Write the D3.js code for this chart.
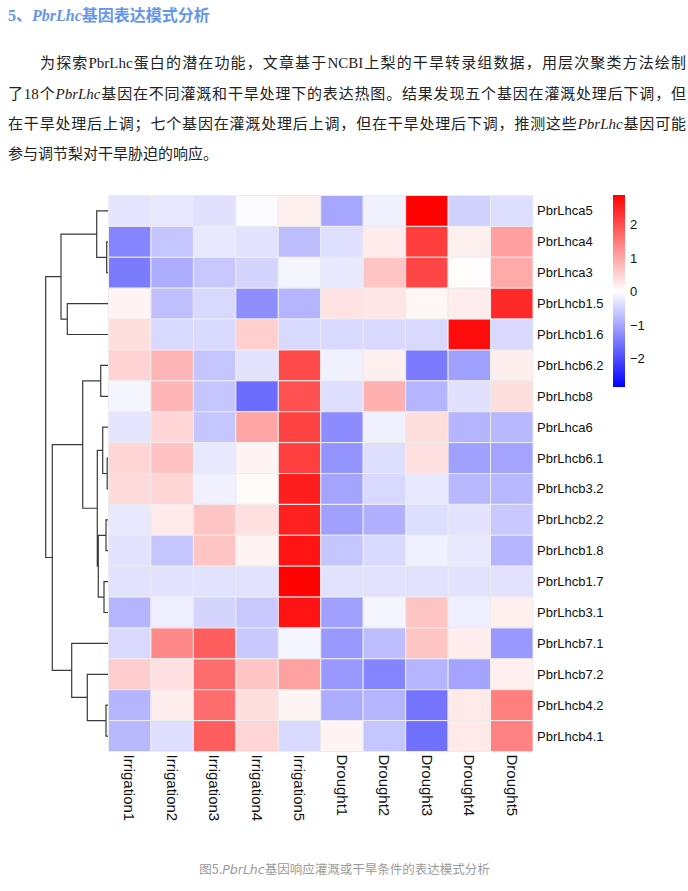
<!DOCTYPE html>
<html>
<head>
<meta charset="utf-8">
<script src="https://cdn.jsdelivr.net/npm/d3@7"></script>
<style>
  body { margin: 0; background: #fff; }
  #page { position: relative; width: 688px; height: 891px; overflow: hidden; }
  #page svg { position: absolute; left: 0; top: 0; }
  .title { position: absolute; left: 8px; top: 3px; font: bold 16px "Liberation Serif", "Noto Sans CJK SC", serif; color: #6495ed; line-height: 22px; white-space: nowrap; }
  .title .cn { font-family: "Noto Sans CJK SC", sans-serif; }
  .line { position: absolute; font: 15px "Liberation Serif", "Noto Sans CJK SC", serif; color: #222; line-height: 30px; }
  .just { text-align: justify; text-align-last: justify; }
</style>
</head>
<body>
<div id="page">
  <div class="title">5、<i>PbrLhc</i><span class="cn">基因表达模式分析</span></div>
  <div class="line just" style="left:40px; top:48px; width:646px">为探索PbrLhc蛋白的潜在功能，文章基于NCBI上梨的干旱转录组数据，用层次聚类方法绘制</div>
  <div class="line just" style="left:8px; top:79px; width:678px">了18个<i>PbrLhc</i>基因在不同灌溉和干旱处理下的表达热图。结果发现五个基因在灌溉处理后下调，但</div>
  <div class="line just" style="left:8px; top:109px; width:678px">在干旱处理后上调；七个基因在灌溉处理后上调，但在干旱处理后下调，推测这些<i>PbrLhc</i>基因可能</div>
  <div class="line" style="left:8px; top:139px">参与调节梨对干旱胁迫的响应。</div>
</div>
<script>
  // row-scaled expression (z-score), rows in the clustered order
  const genes = ['PbrLhca5', 'PbrLhca4', 'PbrLhca3', 'PbrLhcb1.5', 'PbrLhcb1.6', 'PbrLhcb6.2',
    'PbrLhcb8', 'PbrLhca6', 'PbrLhcb6.1', 'PbrLhcb3.2', 'PbrLhcb2.2', 'PbrLhcb1.8',
    'PbrLhcb1.7', 'PbrLhcb3.1', 'PbrLhcb7.1', 'PbrLhcb7.2', 'PbrLhcb4.2', 'PbrLhcb4.1']

  const conditions = ['Irrigation1', 'Irrigation2', 'Irrigation3', 'Irrigation4', 'Irrigation5',
    'Drought1', 'Drought2', 'Drought3', 'Drought4', 'Drought5']

  const zScores = [
    [-0.30, -0.27, -0.34, -0.05, 0.17, -1.00, -0.17, 2.85, -0.50, -0.37],
    [-1.36, -0.65, -0.26, -0.31, -0.73, -0.36, 0.23, 2.19, 0.17, 1.08],
    [-1.48, -0.92, -0.62, -0.48, -0.11, -0.26, 0.66, 2.09, 0.03, 0.97],
    [0.12, -0.70, -0.43, -1.26, -0.84, 0.32, 0.28, 0.10, 0.20, 2.42],
    [0.37, -0.43, -0.43, 0.55, -0.43, -0.43, -0.43, -0.43, 2.74, -0.43],
    [0.50, 0.84, -0.65, -0.31, 2.04, -0.17, 0.17, -1.48, -1.06, 0.19],
    [-0.11, 0.84, -0.65, -1.64, 1.97, -0.37, 0.88, -0.84, -0.34, 0.37],
    [-0.29, 0.48, -0.65, 1.02, 2.13, -1.28, -0.17, 0.37, -0.84, -0.79],
    [0.48, 0.70, -0.26, 0.12, 2.18, -1.20, -0.37, 0.35, -1.06, -1.02],
    [0.41, 0.46, -0.17, 0.04, 2.54, -1.02, -0.43, -0.26, -0.79, -0.79],
    [-0.26, 0.25, 0.66, 0.35, 2.52, -1.06, -0.88, -0.37, -0.31, -0.60],
    [-0.31, -0.65, 0.66, 0.12, 2.67, -0.65, -0.43, -0.17, -0.26, -0.84],
    [-0.32, -0.32, -0.32, -0.32, 2.85, -0.32, -0.32, -0.32, -0.32, -0.32],
    [-0.84, -0.19, -0.48, -0.60, 2.67, -1.06, -0.11, 0.66, -0.19, 0.17],
    [-0.43, 1.33, 1.82, -0.60, -0.11, -1.15, -0.74, 0.66, 0.20, -1.15],
    [0.57, 0.35, 1.64, 0.66, 1.06, -1.15, -1.37, -0.84, -1.02, 0.17],
    [-0.84, 0.20, 1.64, 0.37, 0.12, -0.92, -0.84, -1.55, 0.25, 1.46],
    [-0.79, -0.37, 1.82, 0.48, -0.43, 0.12, -0.65, -1.60, 0.25, 1.42]
  ]

  // hclust-style merge table: negative = leaf (row number), positive = earlier merge
  const mergeA = [-9, -2, -11, -17, -13, -8, -6, 3, 6, -1, -16, 7, -15, -4, 10, 12, 15]
  const mergeB = [-10, -3, -12, -18, -14, 1, -7, 5, 8, 2, 4, 9, 11, -5, 14, 13, 16]
  const mergeHeight = [0.8, 1.3, 2.0, 2.0, 4.0, 5.3, 7.3, 9.7, 10.7, 11.3, 20.7, 25.3, 36.3, 40.7, 47.0, 55.7, 62.3]

  const legendTicks = [2, 1, 0, -1, -2]
  const colorMin = -2.85
  const colorMax = 2.88

  let width = 688
  let height = 891
  let heat = { left: 108.5, right: 533, top: 195.5, bottom: 751.5 }
  let dendroLeft = 45.7
  let legendBox = { x: 613, width: 12, top: 195, bottom: 387 }

  let svg = d3.select('#page').append('svg')
    .attr('width', width)
    .attr('height', height)

  let xScale = d3.scaleBand().domain(conditions).range([heat.left, heat.right])
  let yScale = d3.scaleBand().domain(genes).range([heat.top, heat.bottom])
  let color = d3.scaleLinear()
    .domain([colorMin, 0, colorMax])
    .range(['#0000ff', '#ffffff', '#ff0000'])

  // CELLS
  let cells = []
  zScores.forEach(function (row, i) {
    row.forEach(function (v, j) {
      cells.push({ gene: genes[i], cond: conditions[j], value: v })
    })
  })

  svg.append('g')
    .attr('class', 'cells')
    .selectAll('rect')
    .data(cells)
    .enter()
    .append('rect')
    .attr('x', function (d) { return xScale(d.cond) })
    .attr('y', function (d) { return yScale(d.gene) })
    .attr('width', xScale.bandwidth())
    .attr('height', yScale.bandwidth())
    .attr('fill', function (d) { return color(d.value) })
    .attr('stroke', '#ececec')
    .attr('stroke-width', 1)

  // ROW LABELS
  svg.append('g')
    .selectAll('text')
    .data(genes)
    .enter()
    .append('text')
    .attr('x', heat.right + 4)
    .attr('y', function (d) { return yScale(d) + yScale.bandwidth() / 2 })
    .attr('dy', '0.35em')
    .attr('style', 'font: 13px "Liberation Sans", Arial, sans-serif; fill: #111;')
    .text(function (d) { return d })

  // COLUMN LABELS
  svg.append('g')
    .selectAll('text')
    .data(conditions)
    .enter()
    .append('text')
    .attr('transform', function (d) {
      return 'translate(' + (xScale(d) + xScale.bandwidth() / 2) + ',' + (heat.bottom + 3) + ') rotate(90)'
    })
    .attr('dy', '0.35em')
    .attr('style', 'font: 15px "Liberation Sans", Arial, sans-serif; fill: #111;')
    .text(function (d) { return d })

  // DENDROGRAM
  let hScale = d3.scaleLinear()
    .domain([0, d3.max(mergeHeight)])
    .range([heat.left - 0.5, dendroLeft])

  let nodes = []
  function nodeOf (k) {
    if (k < 0) {
      let g = genes[-k - 1]
      return { x: hScale(0), y: yScale(g) + yScale.bandwidth() / 2 }
    }
    return nodes[k - 1]
  }
  let dendro = d3.path()
  mergeA.forEach(function (a, i) {
    let na = nodeOf(a)
    let nb = nodeOf(mergeB[i])
    let x = hScale(mergeHeight[i])
    dendro.moveTo(na.x, na.y)
    dendro.lineTo(x, na.y)
    dendro.lineTo(x, nb.y)
    dendro.lineTo(nb.x, nb.y)
    nodes.push({ x: x, y: (na.y + nb.y) / 2 })
  })
  svg.append('path')
    .attr('d', dendro.toString())
    .attr('fill', 'none')
    .attr('stroke', '#3a3a3a')
    .attr('stroke-width', 1.2)

  // COLOR LEGEND
  let legendScale = d3.scaleLinear()
    .domain([colorMin, colorMax])
    .range([legendBox.bottom, legendBox.top])

  let grad = svg.append('defs').append('linearGradient')
    .attr('id', 'legendGrad')
    .attr('x1', 0).attr('x2', 0).attr('y1', 1).attr('y2', 0)
  grad.selectAll('stop')
    .data([colorMin, 0, colorMax])
    .enter()
    .append('stop')
    .attr('offset', function (d) { return (d - colorMin) / (colorMax - colorMin) })
    .attr('stop-color', function (d) { return color(d) })

  svg.append('rect')
    .attr('x', legendBox.x)
    .attr('y', legendBox.top)
    .attr('width', legendBox.width)
    .attr('height', legendBox.bottom - legendBox.top)
    .attr('fill', 'url(#legendGrad)')

  svg.append('g')
    .selectAll('text')
    .data(legendTicks)
    .enter()
    .append('text')
    .attr('x', legendBox.x + legendBox.width + 5)
    .attr('y', function (d) { return legendScale(d) })
    .attr('dy', '0.35em')
    .attr('style', 'font: 13px "Liberation Sans", Arial, sans-serif; fill: #111;')
    .text(function (d) { return d < 0 ? '\u2212' + Math.abs(d) : d })

  // CAPTION
  let caption = svg.append('text')
    .attr('x', 344.5)
    .attr('y', 874)
    .attr('text-anchor', 'middle')
    .attr('style', 'font: 12.5px "Noto Sans CJK SC", sans-serif; fill: #9a9a9a;')
  caption.append('tspan').text('图5.')
  caption.append('tspan').attr('font-style', 'italic').attr('font-family', 'DejaVu Sans').text('PbrLhc')
  caption.append('tspan').text('基因响应灌溉或干旱条件的表达模式分析')
</script>
</body>
</html>
